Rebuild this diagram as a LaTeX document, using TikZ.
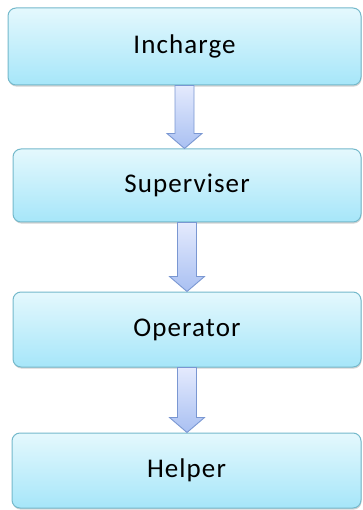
\documentclass[tikz,border=0pt]{standalone}
\usepackage{fontspec}
\setmainfont{Carlito}[LetterSpace=4]
\usetikzlibrary{calc,shadows}
\definecolor{boxtop}{HTML}{E4F8FD}
\definecolor{boxbot}{HTML}{A6E6F9}
\definecolor{boxline}{HTML}{74B9CB}
\definecolor{arrtop}{HTML}{E4EAFD}
\definecolor{arrbot}{HTML}{A9C0F2}
\definecolor{arrline}{HTML}{7A97D2}
\tikzset{
  levelbox/.style={draw=boxline, line width=1pt, rounded corners=8pt,
    top color=boxtop, bottom color=boxbot,
    drop shadow={shadow xshift=0.6pt, shadow yshift=-1.6pt, opacity=0.35},
    font=\fontsize{27}{30}\selectfont, text=black, inner sep=0pt},
  flowarrow/.style={draw=arrline, line width=0.9pt, line join=miter,
    top color=arrtop, bottom color=arrbot},
}
\begin{document}
\begin{tikzpicture}[x=1pt,y=-1pt]
  \useasboundingbox (0,0) rectangle (362,510);
  \node[levelbox, minimum width=353pt, minimum height=77pt] (inch) at (184.5,46.5) {Incharge};
  \node[levelbox, minimum width=348pt, minimum height=73pt] (sup)  at (187,185.5) {Superviser};
  \node[levelbox, minimum width=348pt, minimum height=75pt] (op)   at (187,329.5) {Operator};
  \node[levelbox, minimum width=349pt, minimum height=75pt] (help) at (186.5,470.5) {Helper};
  % block arrows between consecutive levels
  \foreach \a/\b in {inch/sup, sup/op, op/help}{
    \path[flowarrow] let \p1=(\a.south), \p2=(\b.north) in
      (\x1-9.5pt,\y1) -- (\x1+9.5pt,\y1) -- (\x1+9.5pt,\y2+15pt)
      -- (\x1+17.5pt,\y2+15pt) -- (\x1,\y2) -- (\x1-17.5pt,\y2+15pt)
      -- (\x1-9.5pt,\y2+15pt) -- cycle;
  }
\end{tikzpicture}
\end{document}
